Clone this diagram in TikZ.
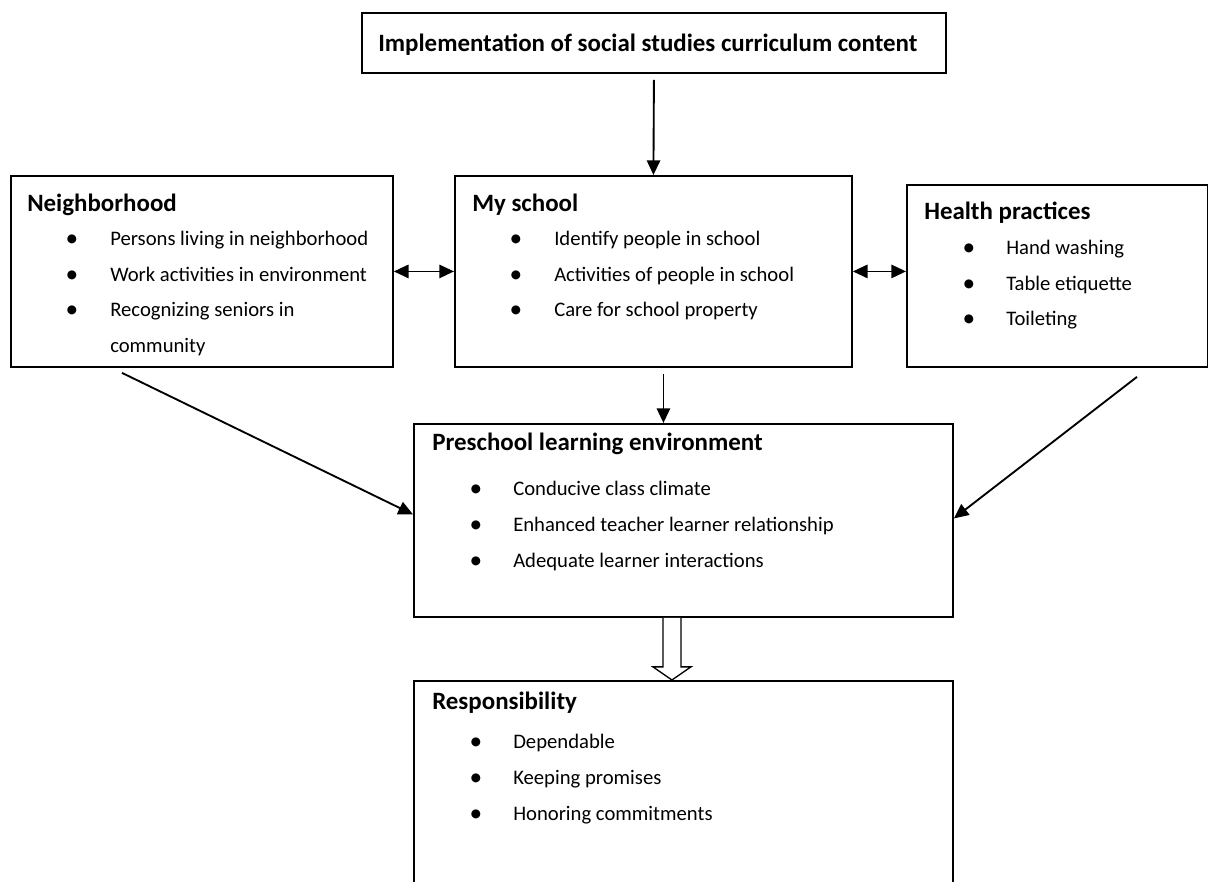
\documentclass[tikz,border=0pt]{standalone}
\usepackage{fontspec}
\setmainfont{Carlito}
\usetikzlibrary{arrows.meta,positioning}
\tikzset{
  box/.style={draw,line width=1.4pt,anchor=north west,inner sep=0pt},
  head/.style={anchor=base west,inner sep=0pt,font=\fontsize{18.7}{22}\selectfont\bfseries},
  item/.style={anchor=base west,inner sep=0pt,font=\fontsize{15.5}{18}\selectfont},
  dot/.style={anchor=base,inner sep=0pt,font=\fontsize{19}{20}\selectfont},
  arr/.style={-{Triangle[length=11pt,width=10pt]},line width=1.4pt},
  darr/.style={{Triangle[length=11pt,width=10pt]}-{Triangle[length=11pt,width=10pt]},line width=1.4pt},
}
\begin{document}
\begin{tikzpicture}[x=0.75pt,y=-0.75pt,line cap=butt,line join=miter]
\useasboundingbox (0,0) rectangle (1208,882);
\clip (0,0) rectangle (1208,882);
% boxes
\node[box,minimum width=584*.75pt,minimum height=60*.75pt] (top) at (361,12) {};
\node[box,minimum width=382*.75pt,minimum height=191*.75pt] (nb) at (10,175) {};
\node[box,minimum width=397*.75pt,minimum height=191*.75pt] (ms) at (454,175) {};
\node[box,minimum width=301*.75pt,minimum height=182*.75pt] (hp) at (906,184) {};
\node[box,minimum width=539*.75pt,minimum height=193*.75pt] (pre) at (413,423) {};
\node[box,minimum width=539*.75pt,minimum height=240*.75pt] (resp) at (413,680) {};
% texts
\node[head] (topT) at (378,51) {Implementation of social studies curriculum content};
\node[head] (nbT) at (27,211) {Neighborhood};
\node[dot] (nbD1) at (72,246) {\textbullet};
\node[item] (nb1) at (110,245) {Persons living in neighborhood};
\node[dot] (nbD2) at (72,282) {\textbullet};
\node[item] (nb2) at (110,281) {Work activities in environment};
\node[dot] (nbD3) at (72,317) {\textbullet};
\node[item] (nb3) at (110,316) {Recognizing seniors in};
\node[item] (nb4) at (110,352) {community};
\node[head] (msT) at (472,211) {My school};
\node[dot] (msD1) at (516,246) {\textbullet};
\node[item] (ms1) at (554,245) {Identify people in school};
\node[dot] (msD2) at (516,282) {\textbullet};
\node[item] (ms2) at (554,281) {Activities of people in school};
\node[dot] (msD3) at (516,317) {\textbullet};
\node[item] (ms3) at (554,316) {Care for school property};
\node[head] (hpT) at (924,219) {Health practices};
\node[dot] (hpD1) at (969,255) {\textbullet};
\node[item] (hp1) at (1006,254) {Hand washing};
\node[dot] (hpD2) at (969,291) {\textbullet};
\node[item] (hp2) at (1006,290) {Table etiquette};
\node[dot] (hpD3) at (969,326) {\textbullet};
\node[item] (hp3) at (1006,325) {Toileting};
\node[head] (preT) at (432,450) {Preschool learning environment};
\node[dot] (preD1) at (476,496) {\textbullet};
\node[item] (pre1) at (513,495) {Conducive class climate};
\node[dot] (preD2) at (476,532) {\textbullet};
\node[item] (pre2) at (513,531) {Enhanced teacher learner relationship};
\node[dot] (preD3) at (476,568) {\textbullet};
\node[item] (pre3) at (513,567) {Adequate learner interactions};
\node[head] (respT) at (432,709) {Responsibility};
\node[dot] (respD1) at (476,749) {\textbullet};
\node[item] (resp1) at (513,748) {Dependable};
\node[dot] (respD2) at (476,785) {\textbullet};
\node[item] (resp2) at (513,784) {Keeping promises};
\node[dot] (respD3) at (476,821) {\textbullet};
\node[item] (resp3) at (513,820) {Honoring commitments};
% arrows
\draw[arr] ([yshift=-4.5pt]top.south) -- (ms.north);
\draw[darr] (nb.east) -- (ms.west);
\draw[darr] (ms.east) -- (ms.east -| hp.west);
\draw[arr] ([xshift=7.5pt,yshift=-4.5pt]ms.south) -- ([xshift=7.5pt]ms.south |- pre.north);
\draw[arr] ([xshift=84pt,yshift=-3.75pt]nb.south west) -- ([yshift=4.5pt]pre.west);
\draw[arr] ([xshift=173.25pt,yshift=-6.75pt]hp.south west) -- ([yshift=1.5pt]pre.east);
% hollow arrow
\path ([xshift=-8.625pt]pre.south) coordinate (ha);
\draw[line width=1pt,fill=white] ([xshift=-6.75pt]ha) -- ([xshift=-6.75pt,yshift=-36.75pt]ha)
  -- ([xshift=-14.25pt,yshift=-36.75pt]ha) -- (ha |- resp.north)
  -- ([xshift=14.25pt,yshift=-36.75pt]ha) -- ([xshift=6.75pt,yshift=-36.75pt]ha)
  -- ([xshift=6.75pt]ha);
\end{tikzpicture}
\end{document}
